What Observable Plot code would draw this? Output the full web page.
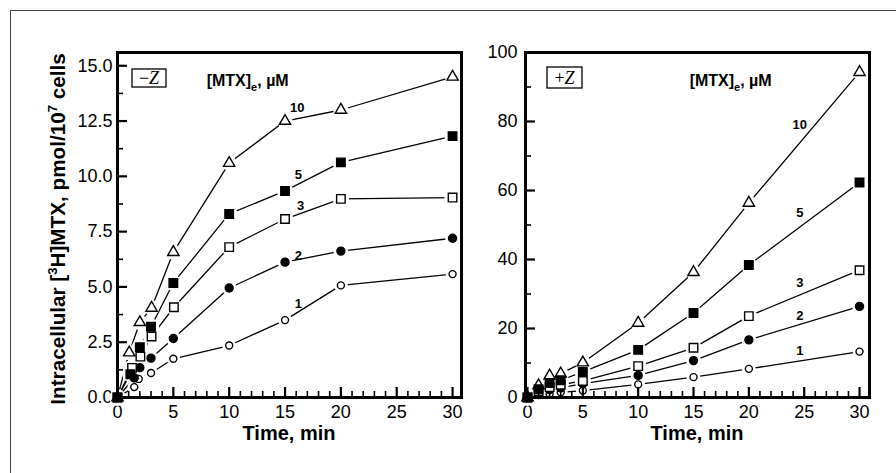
<!DOCTYPE html>
<html><head><meta charset="utf-8">
<script src="https://cdn.jsdelivr.net/npm/d3@7"></script>
<script src="https://cdn.jsdelivr.net/npm/@observablehq/plot@0.6"></script>
<style>
body{margin:0;background:#fff;}
#wrap{position:relative;width:896px;height:473px;overflow:hidden;background:#fff;font-family:"Liberation Sans",Arial,Helvetica,sans-serif;}
#border{position:absolute;left:10px;top:10px;width:900px;height:480px;border-left:1px solid #444;border-top:1px solid #444;}
#left{position:absolute;left:0;top:0;}
#right{position:absolute;left:470px;top:0;}
</style></head><body>
<div id="wrap"><div id="border"></div><div id="left"></div><div id="right"></div></div>
<script>
// ---------- data ----------
const concLabels = ["1", "2", "3", "5", "10"];

// −Z panel (pmol/10^7 cells)
const minusTimes1  = [0, 1.5, 1.9, 3, 5, 10, 15, 20, 30];
const minusZ1      = [0, 0.47, 0.84, 1.11, 1.75, 2.35, 3.5, 5.07, 5.58];
const minusTimes2  = [0, 1.5, 2, 3, 5, 10, 15, 20, 30];
const minusZ2      = [0, 0.88, 1.35, 1.78, 2.67, 4.95, 6.12, 6.62, 7.2];
const minusTimes3  = [0, 1.3, 2.05, 3.05, 5.05, 10, 15, 20, 30];
const minusZ3      = [0, 1.34, 1.85, 2.76, 4.08, 6.8, 8.07, 8.98, 9.04];
const minusTimes5  = [0, 1.15, 2, 3, 5, 10, 15, 20, 30];
const minusZ5      = [0, 1.05, 2.27, 3.2, 5.18, 8.3, 9.34, 10.63, 11.82];
const minusTimes10 = [0, 1.05, 2, 3.05, 5, 10, 15, 20, 30];
const minusZ10     = [0, 2.03, 3.4, 4.05, 6.57, 10.6, 12.5, 13.0, 14.5];

// +Z panel
const plusTimes = [0, 1, 2, 3, 5, 10, 15, 20, 30];
const plusZ1  = [0, 0.7, 1.1, 1.5, 2.0, 3.8, 5.9, 8.3, 13.3];
const plusZ2  = [0, 1.5, 2.3, 2.8, 4.0, 6.4, 10.7, 16.7, 26.4];
const plusZ3  = [0, 1.8, 3.0, 3.7, 4.8, 9.1, 14.4, 23.6, 36.9];
const plusZ5  = [0, 2.4, 4.2, 5.0, 7.4, 13.8, 24.5, 38.4, 62.3];
const plusZ10 = [0, 3.5, 6.3, 6.9, 10.1, 21.6, 36.3, 56.4, 94.3];

// tick values
const xMajor = [0, 5, 10, 15, 20, 25, 30];
const xMinor = [1, 2, 3, 4, 6, 7, 8, 9, 11, 12, 13, 14, 16, 17, 18, 19, 21, 22, 23, 24, 26, 27, 28, 29];
const yMajorMinus = [0, 2.5, 5, 7.5, 10, 12.5, 15];
const yMinorMinus = [1.25, 3.75, 6.25, 8.75, 11.25, 13.75];
const yMajorPlus = [0, 20, 40, 60, 80, 100];
const yMinorPlus = [10, 30, 50, 70, 90];

// curve-label anchors (time, value) per concentration
const labelAnchorMinusT = [16.2, 16.2, 16.4, 16.2, 16.1];
const labelAnchorMinusV = [4.25, 6.42, 8.68, 10.07, 13.1];
const labelAnchorPlusT  = [24.6, 24.6, 24.6, 24.6, 24.6];
const labelAnchorPlusV  = [13.4, 23.8, 33.3, 53.4, 79];

// ---------- drawing ----------
const FONT = "'Liberation Sans', Arial, Helvetica, sans-serif";
const HEIGHT = 473, MT = 52, MB = 76;
const styles = {
  "1":  {symbol: "circle",   fill: "white", r: 3.5},
  "2":  {symbol: "circle",   fill: "black", r: 4},
  "3":  {symbol: "square",   fill: "white", r: 4.8},
  "10": {symbol: "triangle", fill: "white", r: 4.2},
  "5":  {symbol: "square",   fill: "black", r: 4.8}
};
const drawOrder = ["1", "2", "3", "10", "5"];

function render(cfg) {
  const seriesRows = c => cfg.times[c].map((t, i) => ({t, v: cfg.values[c][i], c}));
  const plotH = HEIGHT - MT - MB;
  const plotW = cfg.width - cfg.marginLeft - cfg.marginRight;
  const labels = concLabels.map((c, i) => ({c, t: cfg.labT[i], v: cfg.labV[i]}));
  const marks = [];
  for (const c of drawOrder) marks.push(Plot.line(seriesRows(c), {x: "t", y: "v", stroke: "black", strokeWidth: 1.3}));
  for (const c of drawOrder) marks.push(Plot.dot(seriesRows(c), {x: "t", y: "v", symbol: "circle", r: styles[c].r + 3.4, fill: "white", stroke: "none"}));
  for (const c of drawOrder) marks.push(Plot.dot(seriesRows(c), {x: "t", y: "v", symbol: styles[c].symbol, r: styles[c].r, fill: styles[c].fill, stroke: "black", strokeWidth: 1.4}));
  marks.push(Plot.text(labels, {x: "t", y: "v", text: "c", fontSize: 13, fontWeight: "bold", fill: "black", fontFamily: FONT}));
  // inward ticks (bottom and left), drawn as short rules
  marks.push(Plot.ruleX(xMajor, {x: d => d, insetTop: plotH - 10, stroke: "black", strokeWidth: 2.2}));
  marks.push(Plot.ruleX(xMinor, {x: d => d, insetTop: plotH - 6, stroke: "black", strokeWidth: 1.6}));
  marks.push(Plot.ruleY(cfg.yMajor, {y: d => d, insetRight: plotW - 10, stroke: "black", strokeWidth: 2.2}));
  marks.push(Plot.ruleY(cfg.yMinor, {y: d => d, insetRight: plotW - 6, stroke: "black", strokeWidth: 1.6}));
  marks.push(Plot.frame({stroke: "black", strokeWidth: 3}));

  const chart = Plot.plot({
    width: cfg.width, height: HEIGHT,
    marginLeft: cfg.marginLeft, marginRight: cfg.marginRight, marginTop: MT, marginBottom: MB,
    style: {fontFamily: FONT, fontSize: "18px", background: "transparent", color: "black"},
    x: {domain: cfg.xDomain, ticks: xMajor, tickSize: 0, tickPadding: 8, tickFormat: d => String(d), label: null},
    y: {domain: cfg.yDomain, ticks: cfg.yMajor, tickSize: 0, tickPadding: cfg.yPad, tickFormat: cfg.yFormat, label: null},
    marks
  });
  const svg = d3.select(chart);
  const sx = chart.scale("x"), sy = chart.scale("y");
  const fl = sx.apply(cfg.xDomain[0]), fr = sx.apply(cfg.xDomain[1]);

  // x title
  svg.append("text").attr("x", (fl + fr) / 2).attr("y", 440).attr("text-anchor", "middle")
    .attr("font-family", FONT).attr("font-size", 20).attr("font-weight", "bold").text("Time, min");

  // legend title [MTX]e, µM
  const lt = svg.append("text").attr("x", sx.apply(cfg.legT)).attr("y", sy.apply(cfg.legV) + 5)
    .attr("font-family", FONT).attr("font-size", 16).attr("font-weight", "bold");
  lt.append("tspan").text("[MTX]");
  lt.append("tspan").attr("font-size", 11).attr("dy", 5).text("e");
  lt.append("tspan").attr("dy", -5).text(", \u00b5M");

  // condition box
  const b = cfg.box;
  const g = svg.append("g");
  g.append("rect").attr("x", fl + b.dx).attr("y", MT + b.dy).attr("width", b.w).attr("height", b.h)
    .attr("fill", "white").attr("stroke", "black").attr("stroke-width", 1.3);
  const bt = g.append("text").attr("x", fl + b.dx + b.w / 2).attr("y", MT + b.dy + b.h / 2 + 6)
    .attr("text-anchor", "middle").attr("font-family", "'Liberation Serif', 'Times New Roman', serif").attr("font-size", 18);
  bt.append("tspan").text(cfg.boxSign);
  bt.append("tspan").attr("font-style", "italic").text("Z");

  if (cfg.yTitle) {
    const yt = svg.append("text").attr("transform", "translate(65,229) rotate(-90)").attr("text-anchor", "middle")
      .attr("font-family", FONT).attr("font-size", 20.7).attr("font-weight", "bold");
    yt.append("tspan").text("Intracellular [");
    yt.append("tspan").attr("font-size", 13).attr("dy", -8).text("3");
    yt.append("tspan").attr("dy", 8).text("H]MTX, pmol/10");
    yt.append("tspan").attr("font-size", 13).attr("dy", -8).text("7");
    yt.append("tspan").attr("dy", 8).text(" cells");
  }
  document.getElementById(cfg.el).append(chart);
}

render({
  el: "left", width: 470, marginLeft: 117, marginRight: 9,
  xDomain: [0, 30.8], yDomain: [0, 15.6], yMajor: yMajorMinus, yMinor: yMinorMinus, yPad: 5,
  yFormat: d3.format(".1f"),
  times: {"1": minusTimes1, "2": minusTimes2, "3": minusTimes3, "5": minusTimes5, "10": minusTimes10},
  values: {"1": minusZ1, "2": minusZ2, "3": minusZ3, "5": minusZ5, "10": minusZ10},
  labT: labelAnchorMinusT, labV: labelAnchorMinusV,
  legT: 11.7, legV: 14.3,
  box: {dx: 15, dy: 17, w: 34, h: 18}, boxSign: "\u2212",
  yTitle: true
});
render({
  el: "right", width: 426, marginLeft: 55, marginRight: 27,
  xDomain: [-0.18, 30.9], yDomain: [0, 100], yMajor: yMajorPlus, yMinor: yMinorPlus, yPad: 8,
  yFormat: d => String(d),
  times: {"1": plusTimes, "2": plusTimes, "3": plusTimes, "5": plusTimes, "10": plusTimes},
  values: {"1": plusZ1, "2": plusZ2, "3": plusZ3, "5": plusZ5, "10": plusZ10},
  labT: labelAnchorPlusT, labV: labelAnchorPlusV,
  legT: 18.4, legV: 91.7,
  box: {dx: 22, dy: 15, w: 35, h: 21}, boxSign: "+",
  yTitle: false
});
</script>
</body></html>
